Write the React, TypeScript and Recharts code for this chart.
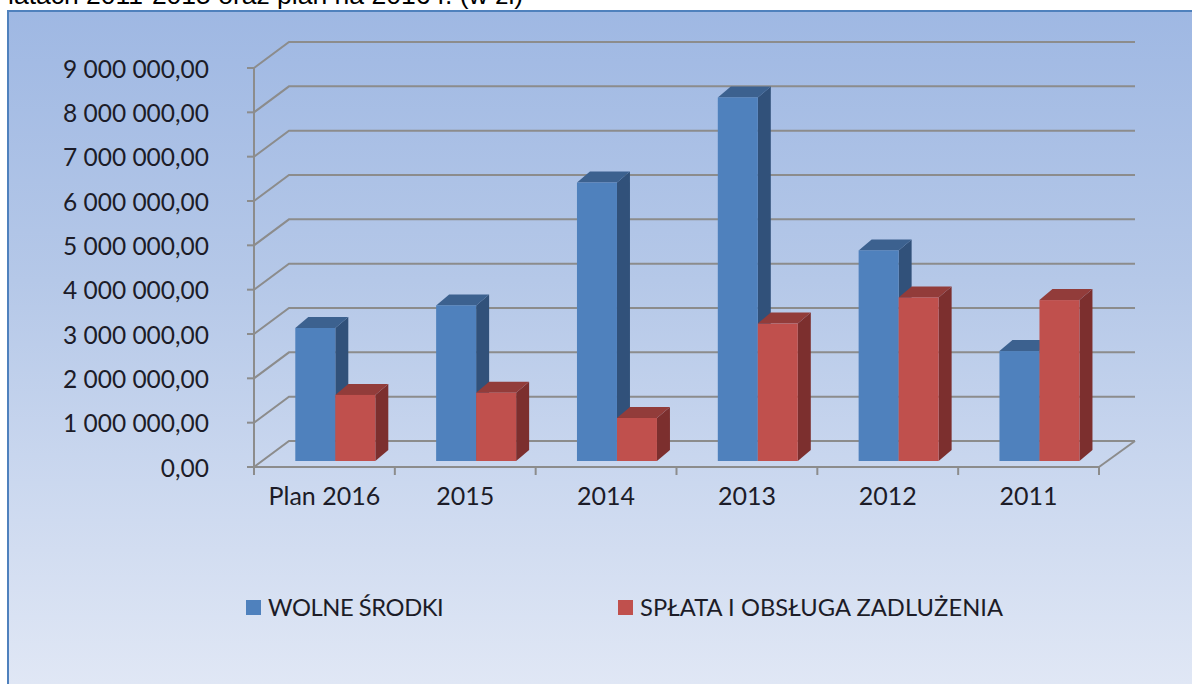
import { BarChart, Bar, XAxis, YAxis, CartesianGrid, Legend } from "recharts";

const categories = ["Plan 2016", "2015", "2014", "2013", "2012", "2011"];
const wolneSrodki = [3000000, 3510000, 6280000, 8200000, 4750000, 2480000];
const splata = [1490000, 1540000, 970000, 3100000, 3690000, 3630000];
const yTicks = [0, 1000000, 2000000, 3000000, 4000000, 5000000, 6000000, 7000000, 8000000, 9000000];
const seriesNames = ["WOLNE ŚRODKI", "SPŁATA I OBSŁUGA ZADLUŻENIA"];

const data = categories.map((name, i) => ({ name, wolne: wolneSrodki[i], splata: splata[i] }));

const FONT = "Lato, sans-serif";
const TEXT = "#1c1c28";
const AXIS = "#8c8c8c";
const PLOT_WIDTH = 845;
// depth of the fake 3D wall and of the bars
const WALL_DX = 35;
const WALL_DY = 26;
const BAR_DX = 13;
const BAR_DY = 11;
const BAR_SHIFT_X = 11.3;
const BAR_SHIFT_Y = 6;

const formatPl = (v: number) => {
  const s = String(v).replace(/\B(?=(\d{3})+$)/g, " ");
  return s + ",00";
};

// 3D column: front face, top and side
function Prism({ x, y, width, height, front, top, side }: any) {
  const l = x + BAR_SHIFT_X;
  const r = l + width;
  const t = y - BAR_SHIFT_Y;
  const b = t + height;
  return (
    <g>
      <path d={`M${r} ${t}L${r + BAR_DX} ${t - BAR_DY}V${b - BAR_DY}L${r} ${b}Z`} fill={side} />
      <path d={`M${l} ${t}L${l + BAR_DX} ${t - BAR_DY}H${r + BAR_DX}L${r} ${t}Z`} fill={top} />
      <rect x={l} y={t} width={width} height={height} fill={front} />
    </g>
  );
}

// each grid line goes back along the side wall and across the back wall
function WallLine({ x1, x2, y1 }: any) {
  const floor = Math.abs(y1 - 467) < 2;
  return (
    <g fill="none" stroke={AXIS} strokeWidth={2}>
      <path d={`M${x1} ${y1}L${x1 + WALL_DX} ${y1 - WALL_DY}H${x2 + WALL_DX + 1}`} />
      {floor && <path d={`M${x2} ${y1}L${x2 + WALL_DX + 1} ${y1 - WALL_DY}`} />}
    </g>
  );
}

// category label plus tick marks on the band edges
function CategoryTick({ x, y, payload, index }: any) {
  const half = PLOT_WIDTH / categories.length / 2;
  return (
    <g>
      <path d={`M${x - half} ${y - 8}v8`} stroke={AXIS} strokeWidth={2} />
      {index === categories.length - 1 && <path d={`M${x + half} ${y - 8}v8`} stroke={AXIS} strokeWidth={2} />}
      <text x={x} y={y + 30} textAnchor="middle" fill={TEXT} fontFamily={FONT} fontSize={25}>
        {payload.value}
      </text>
    </g>
  );
}

function LegendRow({ payload }: any) {
  const lefts = [246, 618];
  const spacing = [-0.4, 0.08];
  return (
    <div style={{ position: "relative", height: 30, fontFamily: FONT, fontSize: 23.7, color: TEXT }}>
      {seriesNames.map((name, i) => {
        const item = (payload || []).find((p: any) => p.value === name);
        return (
          <div key={name} style={{ position: "absolute", left: lefts[i], top: 0, display: "flex", alignItems: "center", whiteSpace: "nowrap", letterSpacing: spacing[i] }}>
            <span style={{ width: 15, height: 15, background: item?.color, marginRight: 7 }} />
            {name}
          </div>
        );
      })}
    </div>
  );
}

export default function App() {
  return (
    <div style={{ position: "absolute", left: 0, top: 0, width: 1192, height: 684, overflow: "hidden", background: "#fff" }}>
      <div style={{ position: "absolute", left: 8, top: -20, fontFamily: "Liberation Sans, Arial, sans-serif", fontSize: 26.5, color: "#000", whiteSpace: "nowrap" }}>
        latach 2011-2015 oraz plan na 2016 r. (w zł)
      </div>
      <div
        style={{
          position: "absolute", left: 7, top: 10, width: 1185, height: 674, boxSizing: "border-box",
          borderLeft: "2px solid #4f81bd", borderTop: "2px solid #4f81bd",
          background: "linear-gradient(180deg, #9fb8e3 0%, #b5c8e8 40%, #cbd8ef 70%, #e0e7f5 100%)",
        }}
      />
      <div style={{ position: "absolute", left: 0, top: 0 }}>
        <BarChart
          width={1192}
          height={684}
          data={data}
          barGap={0}
          barSize={40}
          margin={{ top: 68, right: 93, bottom: 177, left: 0 }}
        >
          <CartesianGrid vertical={false} horizontal={(p: any) => <WallLine key={p.key ?? p.index} {...p} />} />
          <XAxis
            dataKey="name"
            height={40}
            interval={0}
            axisLine={{ stroke: AXIS, strokeWidth: 2 }}
            tickLine={false}
            tick={<CategoryTick />}
          />
          <YAxis
            width={254}
            domain={[0, 9000000]}
            ticks={yTicks}
            interval={0}
            tickFormatter={formatPl}
            axisLine={{ stroke: AXIS, strokeWidth: 2 }}
            tickLine={{ stroke: AXIS, strokeWidth: 2 }}
            tickSize={7}
            tickMargin={38}
            tick={{ fill: TEXT, fontFamily: FONT, fontSize: 24.5, dy: 1 }}
          />
          <Legend layout="horizontal" verticalAlign="middle" content={<LegendRow />} wrapperStyle={{ top: 593, left: 0, width: 1192 }} />
          <Bar
            dataKey="wolne"
            name={seriesNames[0]}
            fill="#4f81bd"
            isAnimationActive={false}
            shape={(p: any) => <Prism {...p} front="#4f81bd" top="#3c618f" side="#31517a" />}
          />
          <Bar
            dataKey="splata"
            name={seriesNames[1]}
            fill="#c0504d"
            isAnimationActive={false}
            shape={(p: any) => <Prism {...p} front="#c0504d" top="#923c3a" side="#7c2f2e" />}
          />
        </BarChart>
      </div>
    </div>
  );
}
